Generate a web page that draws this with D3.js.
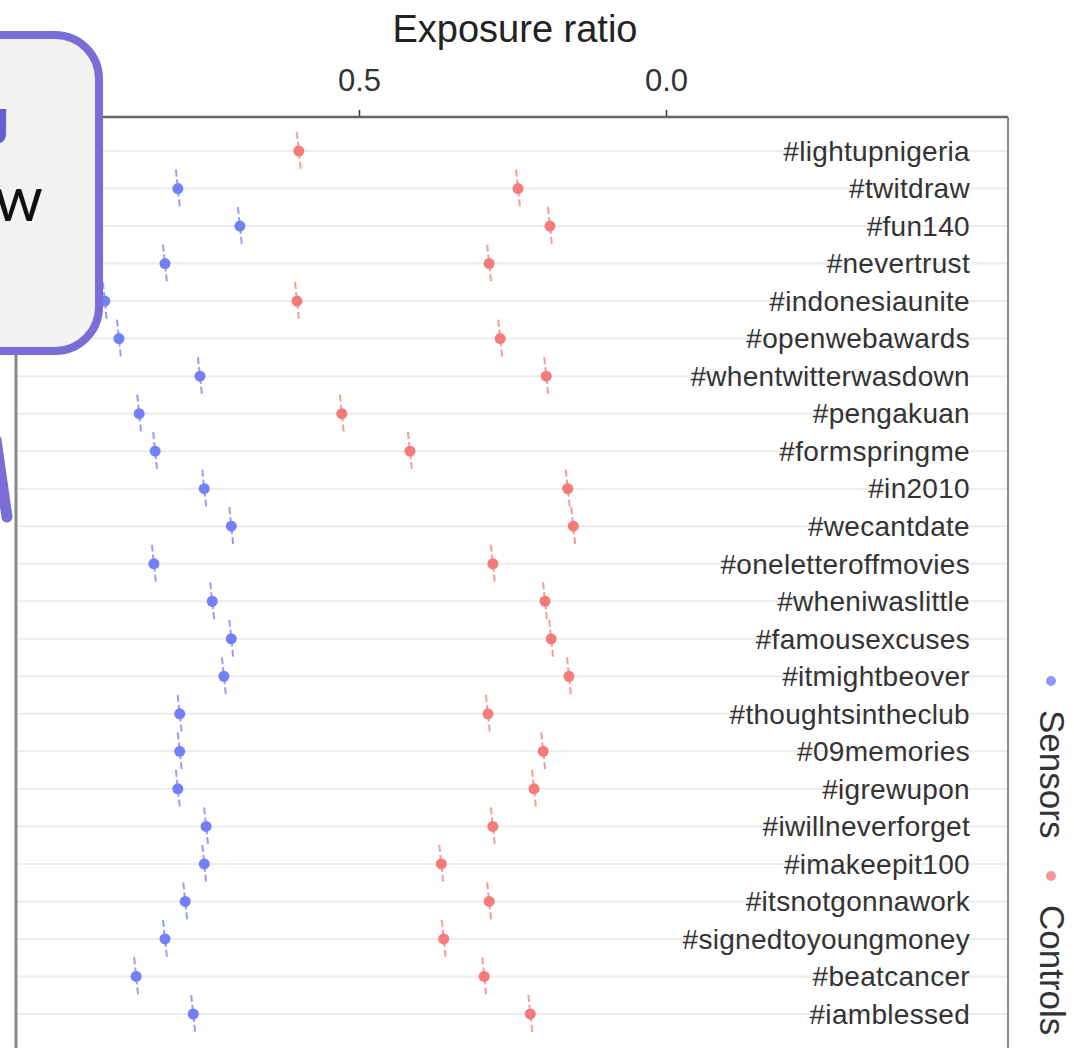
<!DOCTYPE html>
<html>
<head>
<meta charset="utf-8">
<script src="https://cdn.jsdelivr.net/npm/d3@7"></script>
<style>
  body { margin: 0; background: #fff; }
  svg { display: block; font-family: "Liberation Sans", Arial, sans-serif; }
</style>
</head>
<body>
<svg id="canvas" width="1074" height="1048"></svg>
<script>
// hashtags, top to bottom
let hashtags = ['#lightupnigeria', '#twitdraw', '#fun140', '#nevertrust', '#indonesiaunite',
  '#openwebawards', '#whentwitterwasdown', '#pengakuan', '#formspringme', '#in2010',
  '#wecantdate', '#oneletteroffmovies', '#wheniwaslittle', '#famousexcuses', '#itmightbeover',
  '#thoughtsintheclub', '#09memories', '#igrewupon', '#iwillneverforget', '#imakeepit100',
  '#itsnotgonnawork', '#signedtoyoungmoney', '#beatcancer', '#iamblessed']

let sensorValues = [0.93, 0.795, 0.694, 0.816, 0.914, 0.891, 0.759, 0.858, 0.832, 0.752,
  0.708, 0.834, 0.739, 0.708, 0.720, 0.792, 0.792, 0.795, 0.749, 0.752,
  0.783, 0.816, 0.863, 0.770]

let controlValues = [0.598, 0.241, 0.189, 0.288, 0.601, 0.270, 0.195, 0.528, 0.417, 0.160,
  0.151, 0.282, 0.197, 0.187, 0.158, 0.290, 0.200, 0.215, 0.282, 0.366,
  0.288, 0.362, 0.296, 0.221]

let tickValues = [0.5, 0.0]
let legendLabels = ['Sensors', 'Controls']
let colors = ['#737ff6', '#f57a7a']

let canvas = d3.select('#canvas')

let panelLeft = 16, panelRight = 1008, panelTop = 117

let xScale = d3.scaleLinear().domain([0, 0.5]).range([666, 359])
let yScale = d3.scalePoint().domain(hashtags).range([151, 1014])

// title
canvas.append('text')
  .attr('x', 515).attr('y', 42)
  .attr('text-anchor', 'middle')
  .style('font-size', '38px')
  .attr('fill', '#222')
  .text('Exposure ratio')

// grid lines
canvas.append('g')
  .selectAll('line')
  .data(hashtags)
  .enter()
  .append('line')
  .attr('x1', panelLeft).attr('x2', panelRight)
  .attr('y1', (d) => yScale(d)).attr('y2', (d) => yScale(d))
  .attr('stroke', '#ececec')
  .attr('stroke-width', 2)

// top axis
let xAxis = d3.axisTop(xScale).tickValues(tickValues).tickFormat(d3.format('.1f')).tickSize(7).tickPadding(19)
let axisG = canvas.append('g')
  .attr('transform', 'translate(0,' + panelTop + ')')
  .call(xAxis)
axisG.select('.domain').remove()
axisG.selectAll('.tick line').attr('stroke', '#333').attr('stroke-width', 1.5)
axisG.selectAll('.tick text')
  .style('font-size', '31px')
  .style('font-family', '"Liberation Sans", Arial, sans-serif')
  .attr('fill', '#333')

// panel border
canvas.append('line')
  .attr('x1', panelLeft).attr('x2', panelRight).attr('y1', panelTop).attr('y2', panelTop)
  .attr('stroke', '#666').attr('stroke-width', 2.5)
canvas.append('line')
  .attr('x1', panelRight).attr('x2', panelRight).attr('y1', panelTop).attr('y2', 1048)
  .attr('stroke', '#888').attr('stroke-width', 2)
canvas.append('line')
  .attr('x1', panelLeft).attr('x2', panelLeft).attr('y1', panelTop).attr('y2', 1048)
  .attr('stroke', '#888').attr('stroke-width', 3)

// hashtag labels
canvas.append('g')
  .selectAll('text')
  .data(hashtags)
  .enter()
  .append('text')
  .attr('x', 970)
  .attr('y', (d) => yScale(d))
  .attr('dy', '0.35em')
  .attr('text-anchor', 'end')
  .style('font-size', '28px')
  .style('letter-spacing', '0.3px')
  .attr('fill', '#333')
  .text((d) => d)

// points with short dashed interval marks
let series = [sensorValues, controlValues]
series.forEach((values, i) => {
  let g = canvas.append('g')
  let pts = hashtags.map((h, j) => ({ tag: h, value: values[j] }))
  g.selectAll('line.err')
    .data(pts)
    .enter()
    .append('line')
    .attr('class', 'err')
    .attr('x1', (d) => xScale(d.value) - 2)
    .attr('x2', (d) => xScale(d.value) + 2)
    .attr('y1', (d) => yScale(d.tag) - 19)
    .attr('y2', (d) => yScale(d.tag) + 19)
    .attr('stroke', colors[i])
    .attr('stroke-width', 2)
    .attr('stroke-dasharray', '7,3')
    .attr('opacity', 0.75)
  g.selectAll('circle')
    .data(pts)
    .enter()
    .append('circle')
    .attr('cx', (d) => xScale(d.value))
    .attr('cy', (d) => yScale(d.tag))
    .attr('r', 5.5)
    .attr('fill', colors[i])
})

// legend, rotated
let legendY = [681, 876]
legendLabels.forEach((label, i) => {
  canvas.append('circle')
    .attr('cx', 1051).attr('cy', legendY[i])
    .attr('r', 5)
    .attr('fill', colors[i])
    .attr('opacity', 0.8)
  canvas.append('text')
    .attr('transform', 'translate(1052,' + (legendY[i] + 29) + ') rotate(90)')
    .attr('dy', '0.35em')
    .style('font-size', '35px')
    .attr('fill', '#333')
    .text(label)
})

// callout box (cut off at the left edge)
canvas.append('line')
  .attr('x1', -4).attr('y1', 440).attr('x2', 7).attr('y2', 517)
  .attr('stroke', '#7b6dd8').attr('stroke-width', 11).attr('stroke-linecap', 'round')
canvas.append('rect')
  .attr('x', -60).attr('y', 35)
  .attr('width', 159).attr('height', 316)
  .attr('rx', 44).attr('ry', 44)
  .attr('fill', '#f2f2f1')
  .attr('stroke', '#7b6dd8')
  .attr('stroke-width', 8)
canvas.append('text')
  .attr('x', 9).attr('y', 134)
  .attr('text-anchor', 'end')
  .style('font-size', '46px')
  .style('font-weight', 'bold')
  .attr('fill', '#6a5ad3')
  .text('ng')
canvas.append('text')
  .attr('x', 43).attr('y', 221)
  .attr('text-anchor', 'end')
  .style('font-size', '62px')
  .style('font-family', 'Lato, sans-serif')
  .attr('fill', '#111')
  .text('w')
</script>
</body>
</html>
